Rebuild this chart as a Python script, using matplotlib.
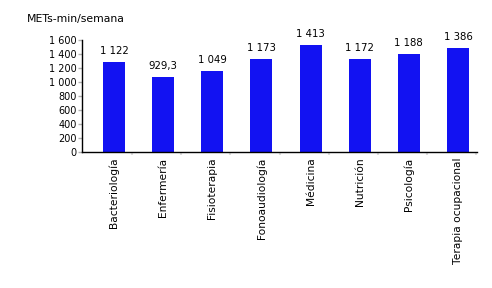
import matplotlib
matplotlib.use("Agg")
import matplotlib.pyplot as plt
from matplotlib.ticker import FixedLocator

categories = ["Bacteriología", "Enfermería", "Fisioterapia", "Fonoaudiología",
              "Médicina", "Nutrición", "Psicología", "Terapia ocupacional"]
bar_values = [1286, 1071, 1157, 1329, 1529, 1329, 1400, 1486]
value_labels = ["1 122", "929,3", "1 049", "1 173", "1 413", "1 172", "1 188", "1 386"]
y_ticks = [0, 200, 400, 600, 800, 1000, 1200, 1400, 1600]
y_tick_labels = ["0", "200", "400", "600", "800", "1 000", "1 200", "1 400", "1 600"]

fig = plt.figure(figsize=(4.92, 2.88), dpi=100)
ax = fig.add_axes([82/492, 1-152/288, (477-82)/492, (152-40)/288])

x = list(range(len(categories)))
ax.bar(x, bar_values, width=0.45, color="#1212F2", zorder=2)

for xi, v, lab in zip(x, bar_values, value_labels):
    ax.annotate(lab, (xi, v), xytext=(0, 8), textcoords="offset points",
                ha="center", va="center", fontsize=7.3, color="black")

ax.set_xlim(-0.651, 7.387)
ax.set_ylim(0, 1600)
ax.set_yticks(y_ticks)
ax.set_yticklabels(y_tick_labels, fontsize=7)
ax.set_xticks(x)
ax.set_xticklabels(categories, rotation=90, fontsize=7.7, va="top", ha="center")
ax.xaxis.set_minor_locator(FixedLocator([i + 0.37 for i in x]))
ax.tick_params(axis="x", which="major", length=0, pad=4)
ax.tick_params(axis="x", which="minor", length=2, color="#dddddd", width=1.5)
ax.tick_params(axis="y", length=3, color="#b0b0b0", width=1, pad=1)

for s in ["top", "right"]:
    ax.spines[s].set_visible(False)
ax.spines["left"].set_color("black")
ax.spines["bottom"].set_color("black")
ax.spines["left"].set_linewidth(1)
ax.spines["bottom"].set_linewidth(1)

fig.text(27/492, 1-19/288, "METs-min/semana", fontsize=7.8, ha="left", va="center")

fig.savefig("out.png", dpi=100)
